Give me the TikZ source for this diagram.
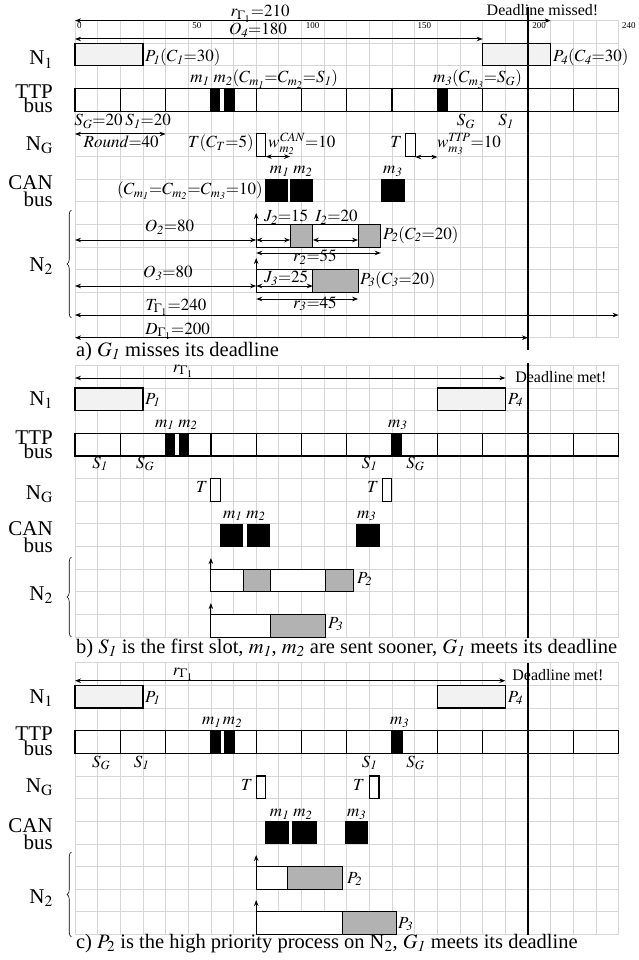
\documentclass[tikz,border=0pt]{standalone}
\usepackage{mathptmx}
\usepackage[no-math]{fontspec}
\setmainfont{Liberation Serif}
\usetikzlibrary{arrows.meta,decorations.pathreplacing}
\newcommand\idg[1]{\mathit{#1}}
\newcommand\mygrid[2]{%
  \pgfmathsetmacro\gbot{#1+22.65*#2}%
  \foreach \i in {0,10,...,240} \draw[gridc] (\i,#1) -- (\i,\gbot);
  \foreach \k in {0,...,#2} \draw[gridc] (0,{#1+22.65*\k}) -- (240,{#1+22.65*\k});
}
\newcommand\ttpbus[1]{%
  \foreach \i in {0,20,...,220} \draw[slotbox] (\i,#1) rectangle ({\i+20},{#1+22.65});
}
\begin{document}
\begin{tikzpicture}[x=2.265pt,y=-1pt,
  gridc/.style={draw=black!16, line width=0.8pt},
  slotbox/.style={draw=black, line width=1.3pt},
  pbox/.style={draw=black, line width=1.1pt, fill=black!5},
  wbox/.style={draw=black, line width=1.1pt, fill=white},
  gbox/.style={draw=black, line width=1.1pt, fill=black!30},
  msg/.style={fill=black},
  dim/.style={line width=1pt, {Stealth[length=6pt,width=4.5pt]}-{Stealth[length=6pt,width=4.5pt]}},
  rarr/.style={line width=1pt, -{Stealth[length=6pt,width=4.5pt]}},
  dline/.style={line width=1.3pt},
  rowlab/.style={font=\fontsize{21}{23}\selectfont, inner sep=0pt, anchor=base east},
  lab/.style={font=\fontsize{17}{19}\selectfont, inner sep=0pt},
  dlab/.style={font=\fontsize{16}{18}\selectfont, inner sep=0pt},
  plab/.style={font=\fontsize{17}{19}\selectfont, inner sep=0pt, anchor=base west},
  captxt/.style={font=\fontsize{20.5}{22}\selectfont, inner sep=0pt, anchor=base west},
  tick/.style={font=\fontsize{9}{10}\selectfont, inner sep=0pt, anchor=west},
  brc/.style={decorate, decoration={brace, amplitude=4.5pt}, line width=0.6pt}]
\useasboundingbox (-33.113,0) rectangle (249.007,960);

%%%%%%%%%%%%%%%% PANEL A
\mygrid{20.6}{14}
\node[tick] (t0) at (0.9,25.5) {0};
\node[tick] (t50) at (51.7,25.5) {50};
\node[tick] (t100) at (101.8,25.5) {100};
\node[tick] (t150) at (151.2,25.5) {150};
\node[tick] (t200) at (201.8,25.5) {200};
\node[tick] (t240) at (241.5,25.5) {240};
\draw[dim] (0,20.6) -- (210,20.6);
\node[lab,anchor=base] (ra) at (81.7,17) {$r_{\Gamma_1}{=}210$};
\node[dlab,anchor=base] (dmiss) at (206.4,16) {Deadline missed!};
\draw[dim] (0,39) -- (180,39);
\node[lab,anchor=base] (o4) at (80.8,34.5) {$O_{\idg4}{=}180$};
% N1
\node[rowlab] (n1a) at (-9.71,65) {N$_1$};
\draw[pbox] (0,43.25) rectangle (30,65.9);
\node[plab] (p1a) at (30.9,62) {$P_{\idg1}(C_{\idg1}{=}30)$};
\draw[pbox] (180,43.25) rectangle (210,65.9);
\node[plab] (p4a) at (211,62) {$P_{\idg4}(C_{\idg4}{=}30)$};
% TTP
\node[rowlab] (ttpa) at (-9.71,99) {TTP};
\node[rowlab] (busa) at (-9.71,112.6) {bus};
\ttpbus{88.55}
\fill[msg] (60,88.55) rectangle (64.2,111.2);
\fill[msg] (65.8,88.55) rectangle (70.5,111.2);
\fill[msg] (160,88.55) rectangle (164.7,111.2);
\node[lab,anchor=base west] (m12a) at (50.8,83) {$m_{\idg1}\ m_{\idg2}(C_{m_{\idg1}}{=}C_{m_{\idg2}}{=}S_{\idg1})$};
\node[lab,anchor=base west] (m3a) at (158,83) {$m_{\idg3}(C_{m_{\idg3}}{=}S_G)$};
\node[lab,anchor=base west] (sga) at (-0.4,125.5) {$S_G{=}20$};
\node[lab,anchor=base west] (s1a) at (22.1,125.5) {$S_{\idg1}{=}20$};
\node[lab,anchor=base] (sga2) at (172.6,125.5) {$S_G$};
\node[lab,anchor=base] (s1a2) at (190.3,125.5) {$S_{\idg1}$};
\draw[dim] (0,134) -- (40,134);
\node[lab,anchor=base] (round) at (20.4,148) {$\mathit{Round}{=}40$};
% NG
\node[rowlab] (nga) at (-9.71,150.5) {N$_\mathrm{G}$};
\draw[wbox] (80,133.85) rectangle (84.2,156.5);
\node[lab,anchor=base east] (ta1) at (79,148) {$T(C_T{=}5)$};
\node[lab,anchor=base west] (wcan) at (85.2,148) {$w^{\mathit{CAN}}_{m_{\idg2}}{=}10$};
\draw[dim] (84.2,156.6) -- (95,156.6);
\draw[wbox] (146,133.85) rectangle (150.2,156.5);
\node[lab,anchor=base east] (ta2) at (144.4,148) {$T$};
\node[lab,anchor=base west] (wttp) at (159.8,148) {$w^{\mathit{TTP}}_{m_{\idg3}}{=}10$};
\draw[dim] (150.2,157) -- (160,157);
% CAN
\node[rowlab] (cana) at (-9.71,189.5) {CAN};
\node[rowlab] (cbusa) at (-9.71,206.5) {bus};
\fill[msg] (84,179.15) rectangle (94.2,201.8);
\fill[msg] (94.8,179.15) rectangle (105,201.8);
\fill[msg] (135,179.15) rectangle (145.5,201.8);
\node[lab,anchor=base west] (cm12a) at (86,173.5) {$m_{\idg1}\ m_{\idg2}$};
\node[lab,anchor=base west] (cm3a) at (136,173.5) {$m_{\idg3}$};
\node[lab,anchor=base east] (cc) at (83,194.5) {$(C_{m_{\idg1}}{=}C_{m_{\idg2}}{=}C_{m_{\idg3}}{=}10)$};
% N2
\draw[brc] (-1.55,318) -- (-1.55,210);
\node[rowlab] (n2a) at (-9.71,271.7) {N$_2$};
\draw[wbox] (80,224.45) rectangle (95,247.1);
\draw[gbox] (95,224.45) rectangle (105,247.1);
\draw[wbox] (105,224.45) rectangle (125,247.1);
\draw[gbox] (125,224.45) rectangle (135,247.1);
\draw[rarr] (80,247.1) -- (80,213);
\draw[dim] (80,240) -- (95,240);
\node[lab,anchor=base west] (j2) at (83.4,221.7) {$J_{\idg2}{=}15$};
\draw[dim] (105,240) -- (125,240);
\node[lab,anchor=base west] (i2) at (106,221.7) {$I_{\idg2}{=}20$};
\draw[dim] (80,253) -- (135,253);
\node[lab,anchor=base west] (r2) at (96.2,261.5) {$r_{\idg2}{=}55$};
\draw[dim] (0,240) -- (80,240);
\node[lab,anchor=base] (o2) at (41.7,231.7) {$O_{\idg2}{=}80$};
\node[plab] (p2a) at (136,239) {$P_{\idg2}(C_{\idg2}{=}20)$};
\draw[wbox] (80,269.75) rectangle (105,292.4);
\draw[gbox] (105,269.75) rectangle (125,292.4);
\draw[rarr] (80,292.4) -- (80,258);
\draw[dim] (80,286) -- (105,286);
\node[lab,anchor=base west] (j3) at (83.4,282.7) {$J_{\idg3}{=}25$};
\draw[dim] (80,299) -- (125,299);
\node[lab,anchor=base west] (r3) at (96.2,308) {$r_{\idg3}{=}45$};
\draw[dim] (0,286) -- (80,286);
\node[lab,anchor=base] (o3) at (41,277.5) {$O_{\idg3}{=}80$};
\node[plab] (p3a) at (125.8,284) {$P_{\idg3}(C_{\idg3}{=}20)$};
\draw[dim] (0,315.05) -- (240,315.05);
\node[lab,anchor=base] (tg) at (44.6,310) {$T_{\Gamma_1}{=}240$};
\draw[dim] (0,337.7) -- (200,337.7);
\node[lab,anchor=base] (dg) at (45.3,334) {$D_{\Gamma_1}{=}200$};
\draw[dline] (200,7) -- (200,350);
\node[captxt] (capa) at (0.4,356.7) {a) $G_{\idg1}$ misses its deadline};

%%%%%%%%%%%%%%%% PANEL B
\mygrid{365.3}{12}
\draw[dim] (0,378) -- (190,378);
\node[lab,anchor=base] (rb) at (47.7,372) {$r_{\Gamma_1}$};
\node[dlab,anchor=base west] (dmb) at (194.3,382) {Deadline met!};
\node[rowlab] (n1b) at (-9.71,405) {N$_1$};
\draw[pbox] (0,387.95) rectangle (30,410.6);
\node[plab] (p1b) at (30.9,404) {$P_{\idg1}$};
\draw[pbox] (160,387.95) rectangle (190,410.6);
\node[plab] (p4b) at (191,404) {$P_{\idg4}$};
\node[rowlab] (ttpb) at (-9.71,444) {TTP};
\node[rowlab] (busb) at (-9.71,458) {bus};
\ttpbus{433.25}
\fill[msg] (40,433.25) rectangle (44.3,455.9);
\fill[msg] (46,433.25) rectangle (50.4,455.9);
\fill[msg] (140,433.25) rectangle (144.5,455.9);
\node[lab,anchor=base west] (m12b) at (35.3,427) {$m_{\idg1}\ m_{\idg2}$};
\node[lab,anchor=base west] (m3b) at (138.2,427) {$m_{\idg3}$};
\node[lab,anchor=base] (s1b) at (11,468.3) {$S_{\idg1}$};
\node[lab,anchor=base] (sgb) at (31,468.3) {$S_G$};
\node[lab,anchor=base] (s1b2) at (130,468.3) {$S_{\idg1}$};
\node[lab,anchor=base] (sgb2) at (150.3,468.3) {$S_G$};
\node[rowlab] (ngb) at (-9.71,499) {N$_\mathrm{G}$};
\draw[wbox] (60,478.55) rectangle (64.2,501.2);
\node[lab,anchor=base east] (tb1) at (58.7,492) {$T$};
\draw[wbox] (135.7,478.55) rectangle (139.9,501.2);
\node[lab,anchor=base east] (tb2) at (134.2,492) {$T$};
\node[rowlab] (canb) at (-9.71,535) {CAN};
\node[rowlab] (cbusb) at (-9.71,552.5) {bus};
\fill[msg] (64,523.85) rectangle (74.3,546.5);
\fill[msg] (76,523.85) rectangle (86.3,546.5);
\fill[msg] (124.2,523.85) rectangle (134.5,546.5);
\node[lab,anchor=base west] (cm12b) at (65.3,518.3) {$m_{\idg1}\ m_{\idg2}$};
\node[lab,anchor=base west] (cm3b) at (124.5,518.3) {$m_{\idg3}$};
\draw[brc] (-1.55,637) -- (-1.55,557);
\node[rowlab] (n2b) at (-9.71,600.7) {N$_2$};
\draw[wbox] (60,569.15) rectangle (74.3,591.8);
\draw[gbox] (74.3,569.15) rectangle (86.5,591.8);
\draw[wbox] (86.5,569.15) rectangle (110.4,591.8);
\draw[gbox] (110.4,569.15) rectangle (122.8,591.8);
\draw[rarr] (60,591.8) -- (60,558);
\node[plab] (p2b) at (124.5,583.3) {$P_{\idg2}$};
\draw[wbox] (60,614.45) rectangle (86.5,637.1);
\draw[gbox] (86.5,614.45) rectangle (110.4,637.1);
\draw[rarr] (60,637.1) -- (60,603);
\node[plab] (p3b) at (111.7,628.3) {$P_{\idg3}$};
\draw[dline] (200,363) -- (200,638);
\node[captxt] (capb) at (0.4,653.3) {b) $S_{\idg1}$ is the first slot, $m_{\idg1}$, $m_{\idg2}$ are sent sooner, $G_{\idg1}$ meets its deadline};

%%%%%%%%%%%%%%%% PANEL C
\mygrid{662.7}{12}
\draw[dim] (0,680.7) -- (190,680.7);
\node[lab,anchor=base] (rc) at (47.7,675) {$r_{\Gamma_1}$};
\node[dlab,anchor=base west] (dmc) at (193,680) {Deadline met!};
\node[rowlab] (n1c) at (-9.71,703) {N$_1$};
\draw[pbox] (0,685.35) rectangle (30,708);
\node[plab] (p1c) at (30.9,702) {$P_{\idg1}$};
\draw[pbox] (160,685.35) rectangle (190,708);
\node[plab] (p4c) at (191,702) {$P_{\idg4}$};
\node[rowlab] (ttpc) at (-9.71,740.5) {TTP};
\node[rowlab] (busc) at (-9.71,755.5) {bus};
\ttpbus{730.65}
\fill[msg] (60,730.65) rectangle (64.4,753.3);
\fill[msg] (66,730.65) rectangle (70.6,753.3);
\fill[msg] (140,730.65) rectangle (145,753.3);
\node[lab,anchor=base west] (m12c) at (56,724.5) {$m_{\idg1}\,m_{\idg2}$};
\node[lab,anchor=base west] (m3c) at (139,724.5) {$m_{\idg3}$};
\node[lab,anchor=base] (sgc) at (11.5,767) {$S_G$};
\node[lab,anchor=base] (s1c) at (29.4,767) {$S_{\idg1}$};
\node[lab,anchor=base] (s1c2) at (130,767) {$S_{\idg1}$};
\node[lab,anchor=base] (sgc2) at (150.3,767) {$S_G$};
\node[rowlab] (ngc) at (-9.71,792) {N$_\mathrm{G}$};
\draw[wbox] (80,775.95) rectangle (84.2,798.6);
\node[lab,anchor=base east] (tc1) at (78.6,790) {$T$};
\draw[wbox] (130,775.95) rectangle (134.2,798.6);
\node[lab,anchor=base east] (tc2) at (128,790) {$T$};
\node[rowlab] (canc) at (-9.71,832.8) {CAN};
\node[rowlab] (cbusc) at (-9.71,849.5) {bus};
\fill[msg] (84,821.25) rectangle (94.6,843.9);
\fill[msg] (96,821.25) rectangle (106.7,843.9);
\fill[msg] (119,821.25) rectangle (129.5,843.9);
\node[lab,anchor=base west] (cm12c) at (86,816.7) {$m_{\idg1}\ m_{\idg2}$};
\node[lab,anchor=base west] (cm3c) at (120,816.7) {$m_{\idg3}$};
\draw[brc] (-1.55,937) -- (-1.55,852);
\node[rowlab] (n2c) at (-9.71,903) {N$_2$};
\draw[wbox] (80,866.55) rectangle (94,889.2);
\draw[gbox] (94,866.55) rectangle (118,889.2);
\draw[rarr] (80,889.2) -- (80,855);
\node[plab] (p2c) at (120,883.3) {$P_{\idg2}$};
\draw[wbox] (80,911.85) rectangle (118,934.5);
\draw[gbox] (118,911.85) rectangle (142,934.5);
\draw[rarr] (80,934.5) -- (80,900);
\node[plab] (p3c) at (142.6,928.3) {$P_{\idg3}$};
\draw[dline] (200,663) -- (200,935);
\node[captxt] (capc) at (0.4,948.3) {c) $P_2$ is the high priority process on N$_2$, $G_{\idg1}$ meets its deadline};
\end{tikzpicture}
\end{document}
